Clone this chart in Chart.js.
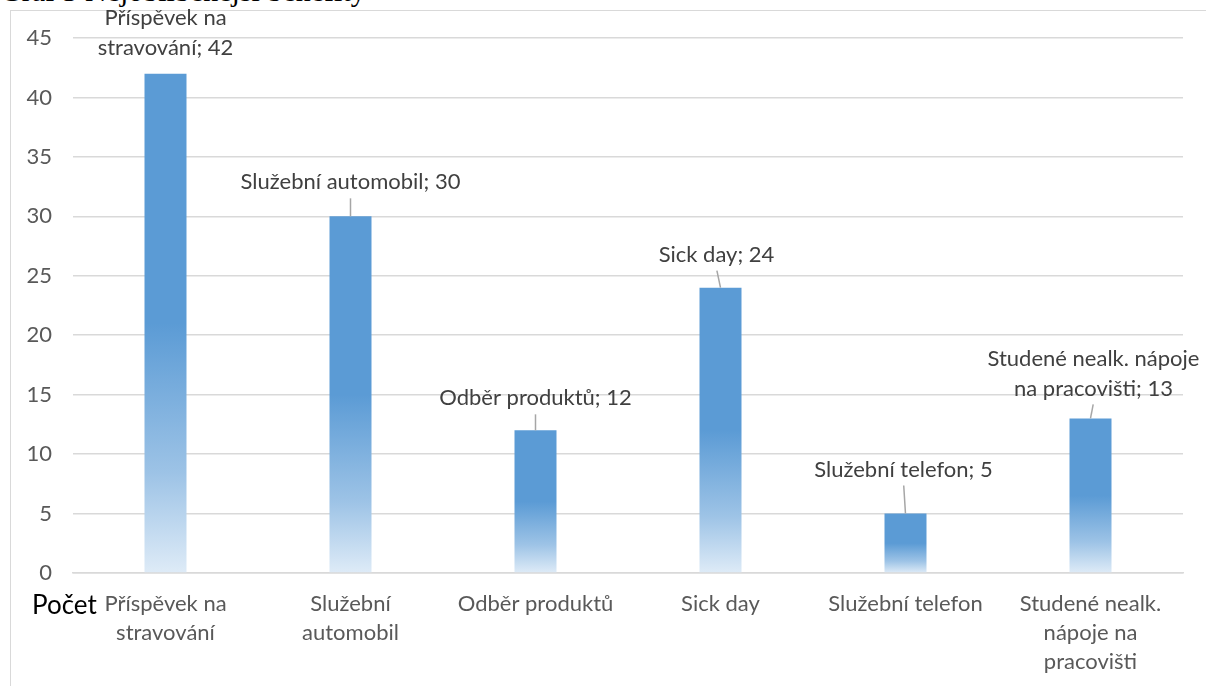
<!DOCTYPE html>
<html>
<head>
<meta charset="utf-8">
<script src="https://cdn.jsdelivr.net/npm/chart.js@4/dist/chart.umd.min.js"></script>
<style>
  html, body { margin: 0; padding: 0; background: #fff; overflow: hidden; }
  #wrap { position: relative; width: 1206px; height: 686px; }
  #frame { position: absolute; left: 10px; top: 10px; width: 1300px; height: 800px; border-left: 1px solid #D9D9D9; border-top: 1px solid #D9D9D9; box-sizing: border-box; }
  #title { position: absolute; left: 0; top: -26px; font-family: "Liberation Serif", "DejaVu Serif", serif; font-size: 30px; color: #000; white-space: nowrap; line-height: 34px; }
  #cv { position: absolute; left: 0; top: 0; }
</style>
</head>
<body>
<div id="wrap">
  <div id="frame"></div>
  <div id="title">Graf 5 Nejoblíbenější benefity</div>
  <div style="position:absolute;left:0;top:0;width:1206px;height:686px;"><canvas id="cv"></canvas></div>
</div>
<script>
// ---- data ----
const categories = [
  ["Příspěvek na", "stravování"],
  ["Služební", "automobil"],
  ["Odběr produktů"],
  ["Sick day"],
  ["Služební telefon"],
  ["Studené nealk.", "nápoje na", "pracovišti"]
];
const values = [42, 30, 12, 24, 5, 13];
const dataLabels = [
  ["Příspěvek na", "stravování; 42"],
  ["Služební automobil; 30"],
  ["Odběr produktů; 12"],
  ["Sick day; 24"],
  ["Služební telefon; 5"],
  ["Studené nealk. nápoje", "na pracovišti; 13"]
];
const yTicks = [0, 5, 10, 15, 20, 25, 30, 35, 40, 45];
const axisTitle = "Počet";

// ---- label placement (style) ----
const labelGap = [26, 34, 32, 33, 44, 30];   // px from bar top to last text line center
const labelDx = [0, 0, 0, -4, -2, 3];
const leader = [false, true, true, true, true, true];

const FONT = "Lato, 'Noto Sans', sans-serif";
const BAR = "#5B9BD5";

function barGradient(ctx) {
  const chart = ctx.chart;
  const y = chart.scales && chart.scales.y;
  if (!y || ctx.dataIndex === undefined || !chart.chartArea) return BAR;
  const v = ctx.raw;
  const top = y.getPixelForValue(v);
  const bottom = y.getPixelForValue(0);
  if (!isFinite(top) || !isFinite(bottom) || bottom - top < 1) return BAR;
  const g = chart.ctx.createLinearGradient(0, top, 0, bottom);
  g.addColorStop(0, BAR);
  g.addColorStop(0.5, BAR);
  g.addColorStop(0.8, "#9DC3E6");
  g.addColorStop(1, "#DEEBF7");
  return g;
}

const labelPlugin = {
  id: "labelPlugin",
  afterDatasetsDraw(chart) {
    const c = chart.ctx;
    const meta = chart.getDatasetMeta(0);
    c.save();
    c.font = "22px " + FONT;
    c.fillStyle = "#404040";
    c.textAlign = "center";
    c.textBaseline = "middle";
    meta.data.forEach((bar, i) => {
      const lines = dataLabels[i];
      const cx = bar.x + labelDx[i];
      const lastY = bar.y - labelGap[i];
      const lh = 30;
      lines.forEach((t, k) => {
        c.fillText(t, cx, lastY - (lines.length - 1 - k) * lh);
      });
      if (leader[i]) {
        c.strokeStyle = "#A6A6A6";
        c.lineWidth = 1.5;
        c.beginPath();
        c.moveTo(cx + (bar.x - cx) * 0.1, lastY + 16);
        c.lineTo(bar.x, bar.y);
        c.stroke();
      }
    });
    // axis title
    c.font = "26px " + FONT;
    c.fillStyle = "#000";
    c.textAlign = "left";
    c.fillText(axisTitle, 32, 606);
    c.restore();
  }
};

new Chart(document.getElementById("cv"), {
  type: "bar",
  data: {
    labels: categories,
    datasets: [{
      data: values,
      backgroundColor: barGradient,
      borderWidth: 0,
      barPercentage: 0.227,
      categoryPercentage: 1.0
    }]
  },
  options: {
    responsive: true,
    maintainAspectRatio: false,
    animation: false,
    devicePixelRatio: 1,
    layout: { padding: { top: 38, right: 23, bottom: 0, left: 0 } },
    plugins: { legend: { display: false }, tooltip: { enabled: false } },
    scales: {
      x: {
        grid: { display: false, drawTicks: false },
        border: { display: true, color: "#D9D9D9", width: 1.5 },
        ticks: {
          color: "#595959",
          font: { family: FONT, size: 22, lineHeight: 1.32 },
          padding: 16,
          maxRotation: 0,
          autoSkip: false
        },
        afterFit(s) { s.height = 113; }
      },
      y: {
        min: 0, max: 45,
        afterBuildTicks(s) { s.ticks = yTicks.map(v => ({ value: v })); },
        grid: { color: "#D9D9D9", lineWidth: 1.5, drawTicks: false },
        border: { display: false },
        ticks: {
          color: "#595959",
          font: { family: FONT, size: 22 },
          padding: 21
        },
        afterFit(s) { s.width = 73; }
      }
    }
  },
  plugins: [labelPlugin]
});
</script>
</body>
</html>
